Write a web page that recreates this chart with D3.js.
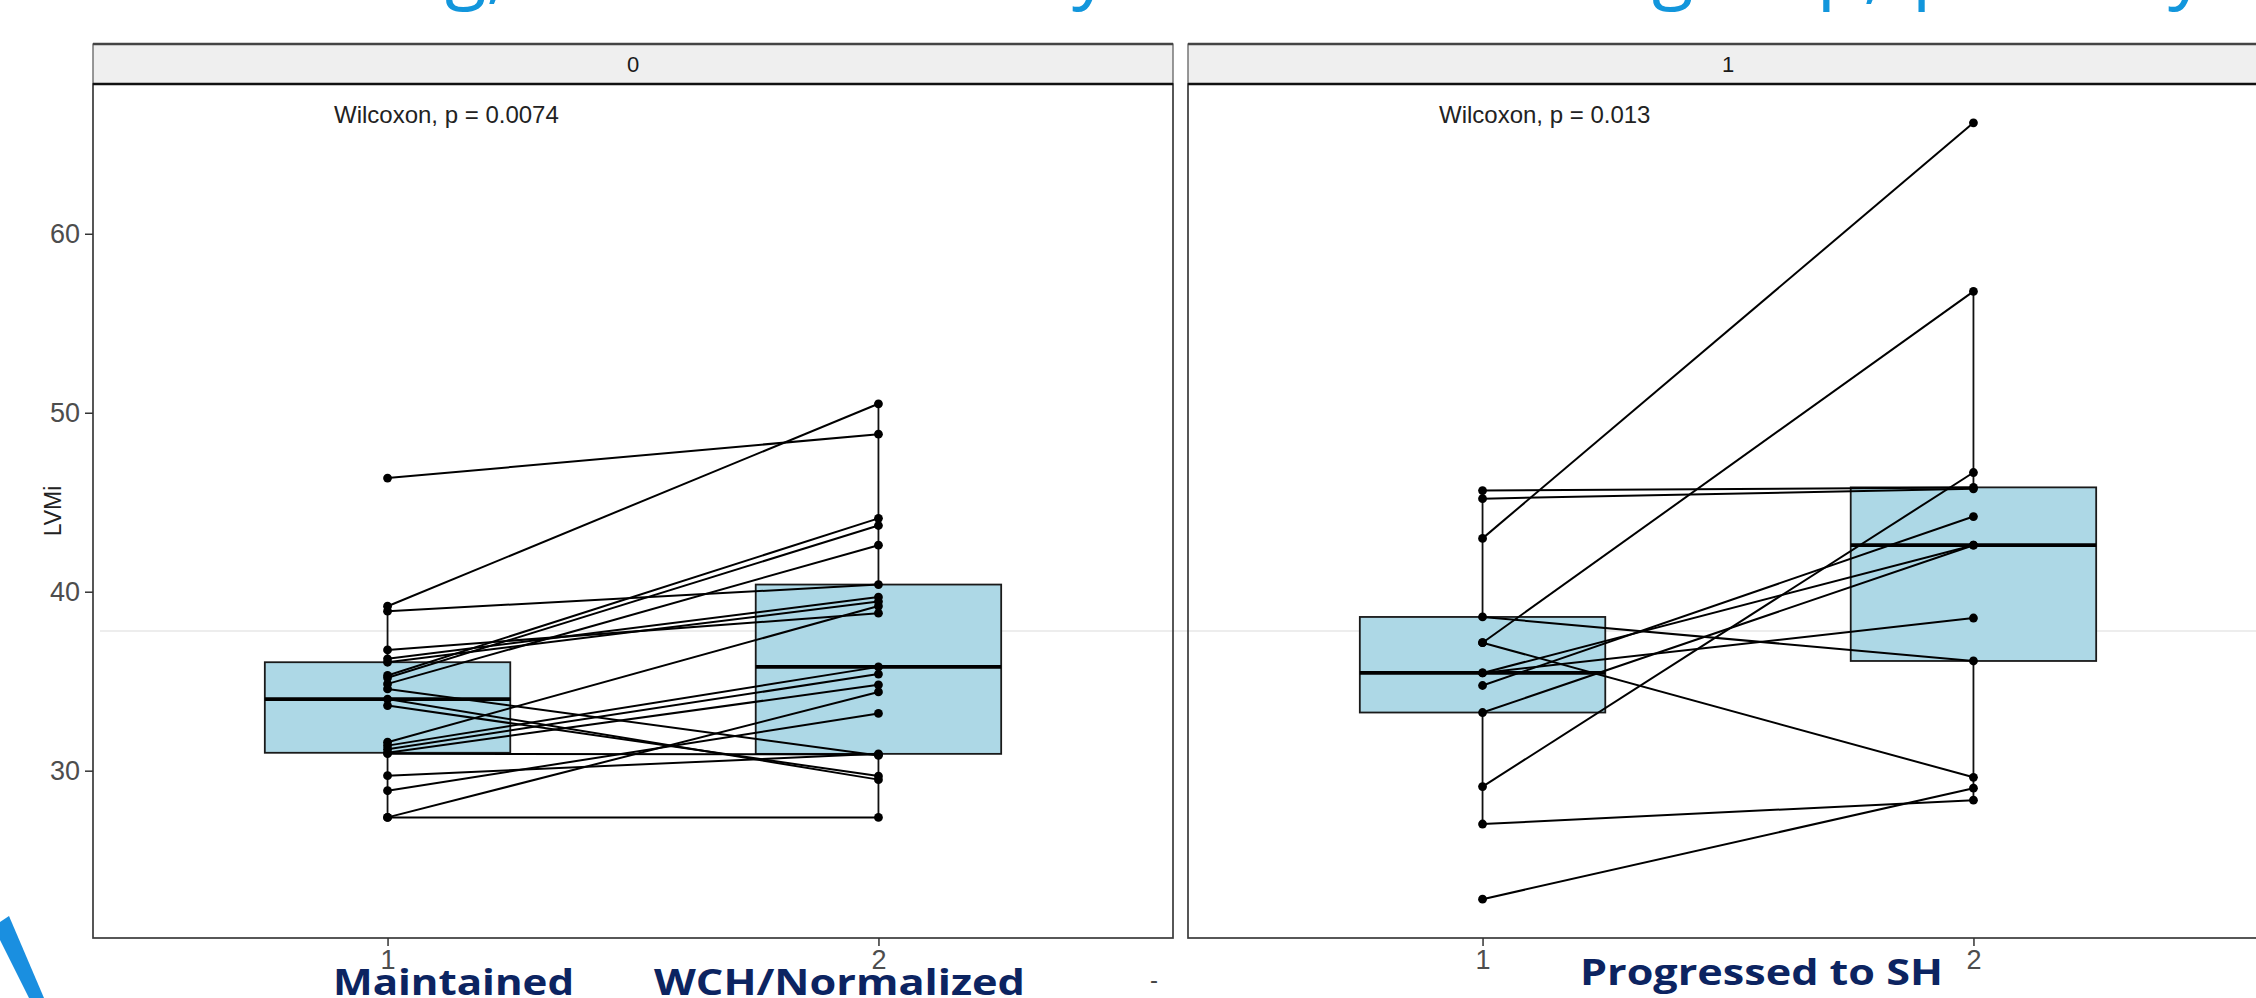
<!doctype html>
<html>

<head>
    <meta charset="utf-8">
    <title>LVMi paired</title>
    <script src="https://cdn.jsdelivr.net/npm/d3@7"></script>
    <style>
        body {
            margin: 0;
            background: #fff;
        }

        svg {
            display: block;
        }

        .axis text {
            font-family: "Liberation Sans", Arial, sans-serif;
            font-size: 27px;
            fill: #4d4d4d;
        }

        .axis line {
            stroke: #333;
            stroke-width: 1.5;
        }
    </style>
</head>

<body>
    <svg width="2256" height="998"></svg>
    <script>
        // facets, x categories, annotations
        var facets = ["0", "1"];
        var visits = [1, 2];
        var pLabels = ["Wilcoxon, p = 0.0074", "Wilcoxon, p = 0.013"];
        var yTicks = [30, 40, 50, 60];
        var groupLabels = ["Maintained", "WCH/Normalized", "Progressed to SH"];
        var titleParts = ["Left ventricular remodelling,", "in the whole study", "and in each", "group,", "p", "< 0.05 by"];

        // facet 0 : LVMi per patient, visit 1 and visit 2 (same order = same patient)
        var lvmi0v1 = [46.35, 39.19, 38.91, 36.75, 36.25, 36.06, 35.32, 35.19, 34.85, 34.57, 34.0, 33.64, 31.59, 31.4, 31.2, 31.0, 30.95, 29.72, 28.88, 27.39, 27.39];
        var lvmi0v2 = [48.8, 50.5, 40.4, 38.8, 39.7, 39.45, 44.1, 43.7, 42.6, 30.85, 29.5, 29.7, 39.2, 35.8, 35.4, 34.8, 30.9, 30.94, 33.2, 27.39, 34.4];
        // facet 1
        var lvmi1v1 = [45.65, 45.2, 42.98, 38.59, 37.15, 37.15, 35.46, 35.46, 34.76, 33.25, 29.11, 27.02, 22.82];
        var lvmi1v2 = [45.83, 45.75, 66.2, 36.13, 56.78, 29.63, 42.6, 38.53, 44.2, 42.6, 46.66, 28.35, 29.02];

        var panels = [
            { facet: facets[0], v1: lvmi0v1, v2: lvmi0v2, p: pLabels[0] },
            { facet: facets[1], v1: lvmi1v1, v2: lvmi1v2, p: pLabels[1] }
        ];

        var svg = d3.select("svg"),
            panelX = [93, 1188],
            panelW = 1080,
            panelTop = 84,
            panelBottom = 938,
            stripTop = 44;

        var all = lvmi0v1.concat(lvmi0v2, lvmi1v1, lvmi1v2);
        var ext = d3.extent(all),
            padY = (ext[1] - ext[0]) * 0.05;

        var y = d3.scaleLinear().domain([ext[0] - padY, ext[1] + padY]).range([panelBottom, panelTop]);
        var x = d3.scalePoint().domain(visits).range([0, panelW]).padding(0.6);
        var boxHalf = x.step() * 0.25;

        function boxStats(v) {
            var s = v.slice().sort(d3.ascending);
            var q1 = d3.quantile(s, 0.25),
                med = d3.quantile(s, 0.5),
                q3 = d3.quantile(s, 0.75),
                iqr = q3 - q1;
            return {
                q1: q1, med: med, q3: q3,
                lo: d3.min(s.filter(function (d) { return d >= q1 - 1.5 * iqr; })),
                hi: d3.max(s.filter(function (d) { return d <= q3 + 1.5 * iqr; }))
            };
        }

        // cropped title (only descenders remain visible)
        var titlePos = [
            { x: 506, a: "end" }, { x: 1110, a: "end" }, { x: 1630, a: "end" },
            { x: 1652, a: "start" }, { x: 1912, a: "start" }, { x: 2206, a: "end" }
        ];
        svg.append("g").selectAll("text")
            .data(titleParts)
            .enter().append("text")
            .attr("x", function (d, i) { return titlePos[i].x; })
            .attr("y", -6)
            .attr("text-anchor", function (d, i) { return titlePos[i].a; })
            .style("font-family", "'Open Sans', sans-serif")
            .style("font-size", "76px")
            .style("fill", "#1296dc")
            .text(function (d) { return d; });

        // faint scan line
        svg.append("line")
            .attr("x1", 100).attr("x2", 2256)
            .attr("y1", y(37.8)).attr("y2", y(37.8))
            .attr("stroke", "#ededed").attr("stroke-width", 2);

        panels.forEach(function (p, i) {
            var g = svg.append("g").attr("transform", "translate(" + panelX[i] + ",0)");

            // boxes
            [p.v1, p.v2].forEach(function (vals, k) {
                var s = boxStats(vals),
                    cx = x(visits[k]);
                g.append("line")
                    .attr("x1", cx).attr("x2", cx)
                    .attr("y1", y(s.lo)).attr("y2", y(s.hi))
                    .attr("stroke", "#111").attr("stroke-width", 1.8);
                g.append("rect")
                    .attr("x", cx - boxHalf)
                    .attr("width", boxHalf * 2)
                    .attr("y", y(s.q3))
                    .attr("height", y(s.q1) - y(s.q3))
                    .attr("fill", "#add8e6")
                    .attr("stroke", "#1a1a1a")
                    .attr("stroke-width", 1.8);
                g.append("line")
                    .attr("x1", cx - boxHalf).attr("x2", cx + boxHalf)
                    .attr("y1", y(s.med)).attr("y2", y(s.med))
                    .attr("stroke", "#000").attr("stroke-width", 3.8);
            });

            // paired lines
            g.selectAll(".pair")
                .data(p.v1)
                .enter().append("line")
                .attr("class", "pair")
                .attr("x1", x(1)).attr("x2", x(2))
                .attr("y1", function (d) { return y(d); })
                .attr("y2", function (d, j) { return y(p.v2[j]); })
                .attr("stroke", "#000").attr("stroke-width", 2);

            // points
            [p.v1, p.v2].forEach(function (vals, k) {
                g.selectAll(".pt" + k)
                    .data(vals)
                    .enter().append("circle")
                    .attr("class", "pt" + k)
                    .attr("cx", x(visits[k]))
                    .attr("cy", function (d) { return y(d); })
                    .attr("r", 4.4)
                    .attr("fill", "#000");
            });

            // panel border
            g.append("rect")
                .attr("x", 0).attr("y", panelTop)
                .attr("width", panelW).attr("height", panelBottom - panelTop)
                .attr("fill", "none").attr("stroke", "#3a3a3a").attr("stroke-width", 1.7);

            // strip
            g.append("rect")
                .attr("x", 0).attr("y", stripTop)
                .attr("width", panelW).attr("height", panelTop - stripTop)
                .attr("fill", "#efefef").attr("stroke", "#555").attr("stroke-width", 1.2);
            g.append("line")
                .attr("x1", 0).attr("x2", panelW).attr("y1", stripTop).attr("y2", stripTop)
                .attr("stroke", "#444").attr("stroke-width", 2.6);
            g.append("line")
                .attr("x1", 0).attr("x2", panelW).attr("y1", panelTop).attr("y2", panelTop)
                .attr("stroke", "#111").attr("stroke-width", 2.6);
            g.append("text")
                .attr("x", panelW / 2).attr("y", (stripTop + panelTop) / 2)
                .attr("dy", "0.35em")
                .attr("text-anchor", "middle")
                .style("font-family", "'Liberation Sans', Arial, sans-serif")
                .style("font-size", "22px")
                .style("fill", "#1a1a1a")
                .text(p.facet);

            // p-value label
            g.append("text")
                .attr("x", x(1) - x.step() * 0.105 + (i ? 8 : 0) - (i ? 0 : 2))
                .attr("y", 123)
                .style("font-family", "'Liberation Sans', Arial, sans-serif")
                .style("font-size", "24px")
                .style("fill", "#222")
                .text(p.p);

            // x axis
            g.append("g")
                .attr("class", "axis")
                .attr("transform", "translate(0," + panelBottom + ")")
                .call(d3.axisBottom(x).tickSize(8).tickPadding(4))
                .call(function (a) { a.select(".domain").remove(); });
        });

        // y axis (left panel only)
        svg.append("g")
            .attr("class", "axis")
            .attr("transform", "translate(" + panelX[0] + ",0)")
            .call(d3.axisLeft(y).tickValues(yTicks).tickSize(8).tickPadding(5))
            .call(function (a) { a.select(".domain").remove(); });

        svg.append("text")
            .attr("transform", "translate(53," + (panelTop + panelBottom) / 2 + ") rotate(-90)")
            .attr("text-anchor", "middle")
            .attr("dy", "0.35em")
            .style("font-family", "'Liberation Sans', Arial, sans-serif")
            .style("font-size", "23px")
            .style("fill", "#222")
            .text("LVMi");

        // group captions under the panels
        var capPos = [
            { x: 333, w: 241, y: 995 },
            { x: 654, w: 371, y: 995 },
            { x: 1580, w: 363, y: 985 }
        ];
        svg.append("g").selectAll("text")
            .data(groupLabels)
            .enter().append("text")
            .attr("x", function (d, i) { return capPos[i].x; })
            .attr("y", function (d, i) { return capPos[i].y; })
            .attr("textLength", function (d, i) { return capPos[i].w; })
            .attr("lengthAdjust", "spacingAndGlyphs")
            .style("font-family", "'Open Sans', sans-serif")
            .style("font-weight", "700")
            .style("font-size", "35px")
            .style("fill", "#0c2461")
            .text(function (d) { return d; });

        svg.append("text")
            .attr("x", 1154).attr("y", 988)
            .attr("text-anchor", "middle")
            .style("font-family", "'Liberation Sans', Arial, sans-serif")
            .style("font-size", "24px")
            .style("fill", "#444")
            .text("-");

        // logo fragment, bottom-left corner
        svg.append("path")
            .attr("d", "M0,922 L9,916 L44,998 L29,998 L0,940 Z")
            .attr("fill", "#1a8fe0");
    </script>
</body>

</html>
